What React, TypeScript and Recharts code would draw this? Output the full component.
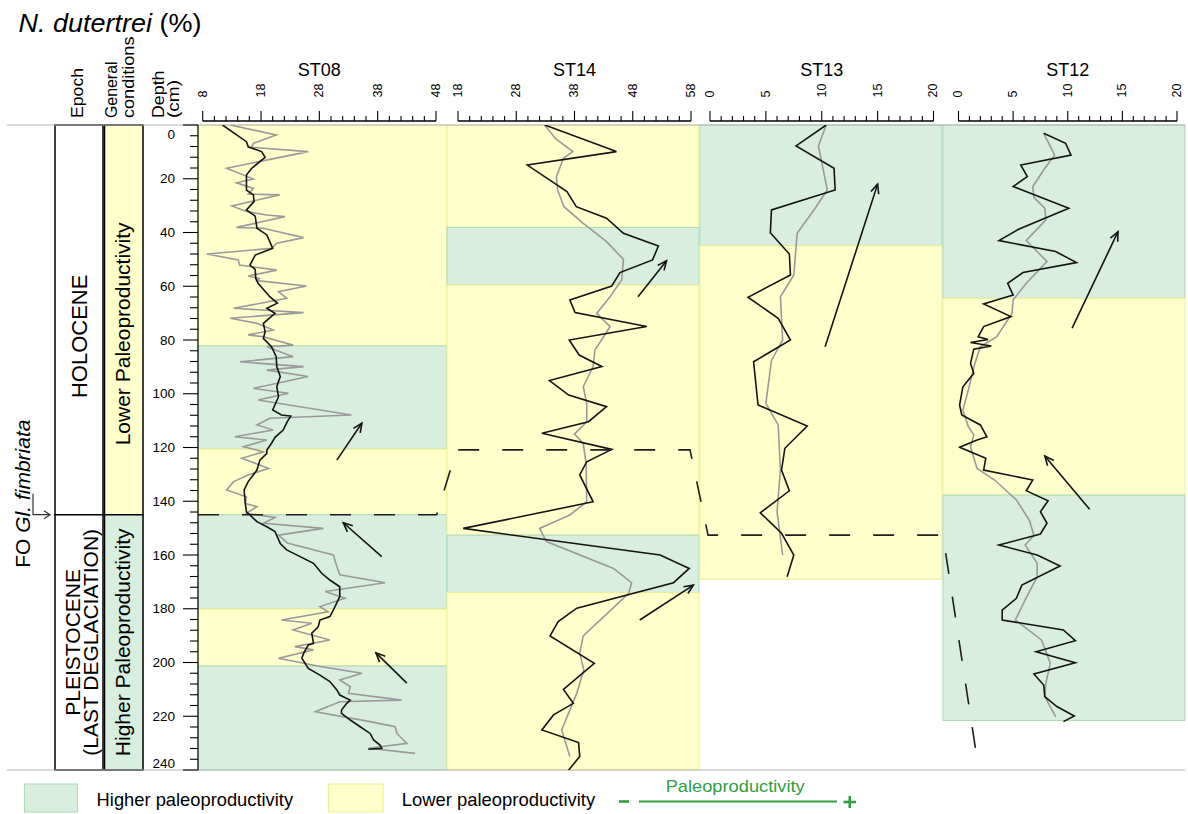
import React from 'react';
import { ScatterChart, Scatter, XAxis, YAxis, ReferenceArea, ReferenceLine } from 'recharts';

const FONT = "'Liberation Sans', Arial, Helvetica, sans-serif";
const INK = '#141414';
const GREY = '#9a9a9a';
const FRAME = '#b4b4b4';
const HIGH_FILL = '#d8eedf';
const HIGH_EDGE = '#a8dcb3';
const LOW_FILL = '#ffffcc';
const LOW_EDGE = '#eeee90';
const PROD_GREEN = '#2f9e41';

type Pair = [number, number]; // [depth (cm), N. dutertrei (%)]
type Level = 'high' | 'low';
type Band = { top: number; bottom: number; level: Level };

// ---- depth axis ----
const depthTicks = [
  0, 4, 8, 12, 16, 20, 24, 28, 32, 36, 40, 44, 48, 52, 56, 60, 64, 68, 72, 76, 80, 84, 88, 92, 96, 100,
  104, 108, 112, 116, 120, 124, 128, 132, 136, 140, 144, 148, 152, 156, 160, 164, 168, 172, 176, 180,
  184, 188, 192, 196, 200, 204, 208, 212, 216, 220, 224, 228, 232, 236, 240,
];
const depthLabels = [0, 20, 40, 60, 80, 100, 120, 140, 160, 180, 200, 220, 240];

// ---- percentage axes ----
const st08Ticks = [8, 10, 12, 14, 16, 18, 20, 22, 24, 26, 28, 30, 32, 34, 36, 38, 40, 42, 44, 46, 48];
const st08Labels = [8, 18, 28, 38, 48];
const st14Ticks = [18, 20, 22, 24, 26, 28, 30, 32, 34, 36, 38, 40, 42, 44, 46, 48, 50, 52, 54, 56, 58];
const st14Labels = [18, 28, 38, 48, 58];
const st13Ticks = [0, 1, 2, 3, 4, 5, 6, 7, 8, 9, 10, 11, 12, 13, 14, 15, 16, 17, 18, 19, 20];
const st13Labels = [0, 5, 10, 15, 20];
const st12Ticks = [0, 1, 2, 3, 4, 5, 6, 7, 8, 9, 10, 11, 12, 13, 14, 15, 16, 17, 18, 19, 20];
const st12Labels = [0, 5, 10, 15, 20];

// ---- ST08 ----
const st08Black: Pair[] = [
  [0, 11.4], [6.2, 15.5], [8.1, 15.8], [9.9, 18.1], [12.0, 18.7], [16.1, 16.4], [18.6, 15.5], [24.2, 15.5],
  [26.0, 16.7], [28.5, 16.8], [31.6, 15.5], [33.9, 17.0], [38.4, 17.3], [40.9, 19.0], [45.9, 20.0], [48.4, 17.0],
  [52.1, 16.1], [53.7, 17.0], [57.1, 17.1], [58.9, 17.5], [63.9, 19.5], [66.3, 20.8], [68.2, 19.0], [70.1, 20.4],
  [73.8, 18.4], [76.9, 18.7], [79.4, 18.4], [82.5, 19.8], [86.2, 20.6], [89.9, 20.7], [93.6, 21.3], [97.4, 20.7],
  [101.1, 21.0], [106.0, 20.0], [107.9, 21.5], [108.3, 23.1], [110.4, 22.5], [113.5, 21.8], [116.2, 20.4],
  [118.4, 19.8], [120.9, 19.0], [122.2, 19.0], [124.7, 17.8], [128.4, 17.3], [132.7, 15.8], [135.8, 15.1],
  [140.8, 15.3], [143.9, 15.5], [145.7, 16.4], [147.6, 17.3], [149.5, 19.0], [151.3, 20.4], [155.7, 21.3],
  [158.1, 22.4], [160.6, 24.7], [163.1, 27.0], [166.8, 28.4], [169.3, 29.8], [171.8, 31.5], [175.5, 31.5],
  [180.5, 30.4], [182.9, 29.8], [184.2, 28.1], [186.7, 27.8], [189.1, 26.7], [192.9, 27.0], [193.5, 26.1],
  [196.6, 25.3], [198.4, 25.0], [202.2, 26.1], [204.7, 28.1], [207.1, 29.8], [210.2, 31.0], [212.1, 31.5],
  [214.0, 33.3], [215.2, 32.7], [217.7, 31.8], [218.9, 31.8], [221.4, 33.3], [223.9, 35.0], [226.4, 36.7],
  [228.8, 37.3], [230.7, 38.4], [231.9, 38.7], [232.3, 36.4],
];
const st08Grey: Pair[] = [
  [0, 12.7], [3.7, 20.6], [6.8, 16.7], [8.3, 16.4], [9.9, 26.1], [16.1, 12.1], [20.1, 16.7], [21.5, 13.8],
  [23.6, 16.7], [25.7, 15.8], [26.0, 21.2], [30.1, 13.0], [32.2, 15.5], [33.5, 19.0], [34.1, 22.1], [38.1, 13.8],
  [38.4, 18.4], [41.9, 25.3], [44.0, 20.7], [45.9, 19.8], [48.0, 8.7], [50.2, 14.1], [52.1, 14.3], [54.0, 20.7],
  [56.2, 15.8], [57.1, 17.7], [57.9, 17.3], [59.9, 25.8], [62.0, 21.0], [64.5, 22.4], [68.2, 13.3], [69.8, 25.3],
  [71.9, 12.7], [73.8, 17.3], [76.3, 20.1], [78.1, 15.8], [78.8, 18.4], [81.9, 23.5], [82.5, 19.0], [86.2, 23.5],
  [88.1, 14.4], [89.9, 25.3], [91.2, 19.0], [93.6, 26.1], [98.0, 16.7], [99.8, 22.7], [102.3, 17.5], [107.9, 33.5],
  [109.1, 19.5], [111.6, 17.3], [113.5, 20.1], [116.0, 13.5], [117.2, 19.0], [119.7, 15.0], [121.6, 18.4],
  [124.0, 14.7], [127.8, 19.3], [130.2, 15.8], [132.7, 13.3], [135.8, 12.1], [138.3, 15.5], [140.8, 15.3],
  [142.0, 17.3], [144.5, 15.5], [146.0, 20.4], [148.2, 18.4], [150.1, 28.7], [152.6, 21.0], [155.5, 22.5],
  [160.0, 30.4], [164.3, 31.0], [167.4, 31.5], [170.3, 39.3], [173.6, 29.0], [176.1, 32.4], [179.2, 28.1],
  [181.1, 29.5], [184.2, 21.5], [185.4, 26.7], [187.9, 23.5], [191.6, 29.8], [194.1, 23.8], [195.3, 27.0],
  [198.4, 21.0], [201.6, 28.4], [204.0, 35.3], [206.5, 31.5], [209.0, 33.3], [211.5, 33.0], [214.0, 42.1],
  [214.6, 31.5], [218.3, 27.3], [222.0, 36.7], [223.9, 41.0], [226.4, 41.3], [230.1, 43.0], [231.9, 36.4],
  [233.8, 44.4],
];
const st08Bands: Band[] = [
  { top: 0, bottom: 82.2, level: 'low' },
  { top: 82.2, bottom: 120.6, level: 'high' },
  { top: 120.6, bottom: 145, level: 'low' },
  { top: 145, bottom: 180.1, level: 'high' },
  { top: 180.1, bottom: 201.3, level: 'low' },
  { top: 201.3, bottom: 240, level: 'high' },
];

// ---- ST14 ----
const st14Black: Pair[] = [
  [0, 32.9], [9.9, 45.2], [14.9, 29.9], [24.8, 36.7], [30.4, 38.3], [34.7, 43.5], [40.3, 46.4], [45.0, 52.4],
  [50.2, 51.4], [54.9, 45.8], [59.9, 44.4], [65.1, 37.2], [69.8, 38.1], [75.0, 50.4], [80.0, 37.1], [85.6, 38.8],
  [89.9, 42.7], [95.1, 33.7], [100.5, 37.0], [104.8, 43.5], [110.4, 40.4], [114.7, 32.4], [120.7, 44.4],
  [125.3, 40.1], [130.2, 38.9], [140.2, 41.2], [150.1, 18.9], [160.0, 52.7], [165.0, 57.7], [170.3, 55.0],
  [179.8, 38.4], [184.8, 35.2], [190.1, 33.8], [200.3, 41.4], [210.0, 36.1], [215.2, 37.8], [219.5, 34.4],
  [225.1, 32.4], [229.8, 38.7], [235.0, 38.9], [240.0, 37.0],
];
const st14Grey: Pair[] = [
  [0, 32.9], [5.0, 34.7], [9.9, 37.7], [12.4, 36.1], [19.2, 34.9], [24.2, 35.1], [30.4, 36.2], [36.6, 39.5],
  [43.4, 43.5], [50.0, 46.4], [57.7, 46.1], [63.9, 44.1], [70.1, 41.8], [75.0, 44.1], [78.8, 43.0], [83.7, 41.5],
  [89.9, 41.2], [97.4, 39.5], [103.6, 40.1], [110.4, 40.1], [115.0, 38.0], [118.5, 39.5], [125.9, 40.0],
  [140.2, 40.1], [145.1, 37.2], [150.1, 32.0], [155.0, 33.2], [165.0, 44.7], [170.3, 47.8], [174.3, 47.3],
  [190.1, 39.5], [196.5, 38.9], [202.7, 39.6], [211.4, 38.4], [225.1, 35.8], [235.0, 37.2],
];
const st14Bands: Band[] = [
  { top: 0, bottom: 38.1, level: 'low' },
  { top: 38.1, bottom: 59.5, level: 'high' },
  { top: 59.5, bottom: 152.6, level: 'low' },
  { top: 152.6, bottom: 174, level: 'high' },
  { top: 174, bottom: 240, level: 'low' },
];

// ---- ST13 ----
const st13Black: Pair[] = [
  [0, 10.4], [7.8, 7.7], [16.1, 11.1], [24.2, 11.2], [31.6, 5.5], [40.1, 5.4], [48.0, 7.1], [55.8, 7.2],
  [64.1, 3.4], [71.9, 6.1], [80.0, 7.2], [88.1, 3.9], [104.2, 4.3], [112.0, 8.7], [120.3, 6.7], [128.4, 6.4],
  [136.1, 7.1], [144.3, 4.5], [151.9, 6.4], [160.0, 7.5], [168.1, 6.9],
];
const st13Grey: Pair[] = [
  [0, 10.4], [7.8, 9.7], [24.2, 10.5], [31.6, 9.3], [40.3, 7.8], [55.8, 7.5], [63.9, 6.3], [80.0, 6.5],
  [87.6, 5.5], [103.6, 5.0], [111.6, 6.1], [128.4, 6.3], [143.9, 6.0], [160.0, 6.5],
];
const st13Bands: Band[] = [
  { top: 0, bottom: 44.9, level: 'high' },
  { top: 44.9, bottom: 169, level: 'low' },
];

// ---- ST12 ----
const st12Black: Pair[] = [
  [3.1, 7.8], [6.8, 9.8], [11.2, 10.3], [14.9, 5.7], [19.2, 6.3], [22.9, 5.0], [31.0, 10.1], [38.8, 5.5],
  [43.0, 3.7], [47.1, 8.9], [51.2, 10.8], [54.9, 5.9], [58.9, 4.5], [63.3, 5.0], [66.6, 2.3], [71.3, 4.8],
  [75.0, 2.3], [78.8, 1.8], [79.8, 2.7], [80.9, 1.1], [82.2, 3.0], [83.4, 1.4], [88.7, 1.1], [92.4, 1.4],
  [97.4, 0.4], [104.2, 0.1], [107.9, 0.3], [111.6, 2.0], [116.0, 2.6], [117.2, 1.7], [119.9, 0.1], [124.0, 2.5],
  [128.4, 2.3], [132.1, 6.8], [136.1, 6.2], [139.8, 8.2], [143.9, 7.5], [148.2, 8.1], [152.2, 7.5], [156.3, 3.7],
  [160.0, 7.2], [164.1, 9.3], [171.2, 5.8], [176.1, 5.3], [180.5, 4.0], [184.2, 4.0], [187.9, 9.6], [191.9, 10.7],
  [196.0, 7.1], [200.1, 10.7], [204.3, 6.9], [208.4, 7.8], [212.7, 7.9], [216.4, 9.0], [219.9, 10.6], [222.0, 9.6],
];
const st12Grey: Pair[] = [
  [3.1, 7.8], [11.2, 8.8], [16.1, 7.9], [22.9, 6.8], [26.9, 6.9], [31.0, 7.9], [35.3, 8.0], [43.0, 6.2],
  [50.8, 8.1], [58.9, 6.2], [65.1, 5.0], [70.1, 4.9], [78.8, 3.5], [82.5, 2.0], [88.7, 1.5], [98.6, 0.9],
  [106.0, 0.4], [112.2, 0.9], [115.3, 1.4], [119.7, 1.1], [127.8, 1.7], [132.1, 3.3], [139.5, 5.3], [147.2, 6.5],
  [152.8, 6.9], [156.3, 6.1], [163.1, 7.2], [168.1, 7.2], [176.7, 6.1], [184.2, 5.2], [191.6, 7.6], [200.3, 8.4],
  [207.7, 8.0], [212.7, 7.9], [220.2, 8.9],
];
const st12Bands: Band[] = [
  { top: 0, bottom: 64.5, level: 'high' },
  { top: 64.5, bottom: 137.7, level: 'low' },
  { top: 137.7, bottom: 221.6, level: 'high' },
];

// productivity trend arrows: tail -> head, [depth, %]
const trendArrows: { core: string; from: Pair; to: Pair }[] = [
  { core: 'st08', from: [124.7, 31.0], to: [110.9, 35.3] },
  { core: 'st08', from: [160.6, 38.7], to: [148.0, 32.1] },
  { core: 'st08', from: [207.7, 43.0], to: [196.4, 37.7] },
  { core: 'st14', from: [63.9, 48.9], to: [50.5, 53.8] },
  { core: 'st14', from: [184.2, 49.2], to: [171.2, 58.4] },
  { core: 'st13', from: [82.5, 10.3], to: [22.0, 15.0] },
  { core: 'st12', from: [75.6, 10.4], to: [39.7, 14.6] },
  { core: 'st12', from: [143.0, 12.0], to: [123.2, 7.9] },
];

// FO Gl. fimbriata correlation trace: [panel position, depth]
const fimbriataTrace: Pair[] = [
  [0, 145], [0.967, 145], [1.048, 120.9], [1.994, 120.9], [2.067, 152.6], [3.019, 152.6], [3.153, 233.3],
];

// left-hand stratigraphic columns
const epochUnits = [
  { top: 0, bottom: 145, lines: ['HOLOCENE'], size: 22, baselines: [8], shift: 16.5 },
  { top: 145, bottom: 240, lines: ['PLEISTOCENE', '(LAST DEGLACIATION)'], size: 21, baselines: [0.5, 18.5], shift: 0 },
];
const conditionUnits = [
  { top: 0, bottom: 145, label: 'Lower Paleoproductivity', level: 'low' as Level, shift: 14 },
  { top: 145, bottom: 240, label: 'Higher Paleoproductivity', level: 'high' as Level, shift: 0 },
];
const fimbriataDepth = 145;

const cores = [
  { id: 'st08', name: 'ST08', domain: [8, 48], ticks: st08Ticks, labels: st08Labels, black: st08Black, grey: st08Grey, bands: st08Bands },
  { id: 'st14', name: 'ST14', domain: [18, 58], ticks: st14Ticks, labels: st14Labels, black: st14Black, grey: st14Grey, bands: st14Bands },
  { id: 'st13', name: 'ST13', domain: [0, 20], ticks: st13Ticks, labels: st13Labels, black: st13Black, grey: st13Grey, bands: st13Bands },
  { id: 'st12', name: 'ST12', domain: [0, 20], ticks: st12Ticks, labels: st12Labels, black: st12Black, grey: st12Grey, bands: st12Bands },
];

// layout of the four panels inside the plotting area
const axisPadding: Record<string, { left: number; right: number }> = {
  st08: { left: 4.7, right: 749 },
  st14: { left: 260, right: 494 },
  st13: { left: 512, right: 251.5 },
  st12: { left: 760.5, right: 8 },
};
const panelSpan: Record<string, [number, number]> = {
  st08: [0, 1.009],
  st14: [1.009, 2.03],
  st13: [2.034, 3.015],
  st12: [3.019, 4],
};

const toPoints = (pairs: Pair[]) => pairs.map(([d, v]) => ({ d, v }));
const noDot = () => <g />;

const renderTopTick = (labels: number[]) => (props: any) => {
  const { x, y, payload } = props;
  const v = payload.value;
  const major = labels.includes(v);
  const base = y - 4;
  const ly = base - 23.5;
  return (
    <g>
      <line x1={x} x2={x} y1={base} y2={base - (major ? 10 : 5)} stroke="#000" strokeWidth={1.1} />
      {major && (
        <text x={x} y={ly} transform={`rotate(-90 ${x} ${ly})`} textAnchor="start" dominantBaseline="central"
          fontSize={12.5} fontFamily={FONT} fill="#000">{v}</text>
      )}
    </g>
  );
};

const DepthTick = (props: any) => {
  const { x, y, payload } = props;
  const v = payload.value;
  const major = depthLabels.includes(v);
  const len = major ? 15 : 8;
  const shift = v === 0 ? 9 : v === 240 ? -7 : 0;
  return (
    <g>
      <line x1={x - len} x2={x} y1={y} y2={y} stroke="#000" strokeWidth={1.1} />
      {major && (
        <text x={x - 23} y={y + shift} textAnchor="end" dominantBaseline="central" fontSize={13.5}
          fontFamily={FONT} fill="#000">{v}</text>
      )}
    </g>
  );
};

const axisBar = (title: string) => (p: any) => {
  const { x1, x2, y1 } = p;
  const yy = y1 - 4;
  return (
    <g>
      <line x1={x1} x2={x2} y1={yy} y2={yy} stroke="#000" strokeWidth={1.5} />
      <text x={(x1 + x2) / 2} y={y1 - 49} textAnchor="middle" fontSize={18} fontFamily={FONT} fill="#000">{title}</text>
    </g>
  );
};

const arrowShape = (p: any) => {
  const { x1, y1, x2, y2 } = p;
  const ang = Math.atan2(y2 - y1, x2 - x1);
  const h = 10;
  const s = 0.42;
  const ax = x2 - h * Math.cos(ang - s);
  const ay = y2 - h * Math.sin(ang - s);
  const bx = x2 - h * Math.cos(ang + s);
  const by = y2 - h * Math.sin(ang + s);
  return (
    <g>
      <line x1={x1} y1={y1} x2={x2} y2={y2} stroke={INK} strokeWidth={1.6} />
      <polyline points={`${ax},${ay} ${x2},${y2} ${bx},${by}`} fill="none" stroke={INK} strokeWidth={1.6} />
    </g>
  );
};

const verticalText = (lines: string[], size: number, baselines: number[], shift = 0) => (props: any) => {
  const vb = props.viewBox || {};
  const cx = vb.x + vb.width / 2;
  const cy = vb.y + vb.height / 2 + shift;
  return (
    <text transform={`rotate(-90 ${cx} ${cy})`} fontSize={size} fontFamily={FONT} fill="#000" textAnchor="middle">
      {lines.map((t, i) => (
        <tspan key={i} x={cx} y={cy + baselines[i]}>{t}</tspan>
      ))}
    </text>
  );
};

const foMarker = (p: any) => {
  const { x1, y1, x2 } = p;
  const top = y1 - 21;
  const tx = x1 - 3.5;
  const ty = y1 - 21;
  return (
    <g>
      <polyline points={`${x1},${top} ${x1},${y1} ${x2},${y1}`} fill="none" stroke="#333" strokeWidth={1.2} />
      <polyline points={`${x2 - 6},${y1 - 4} ${x2},${y1} ${x2 - 6},${y1 + 4}`} fill="none" stroke="#333" strokeWidth={1.2} />
      <text x={tx} y={ty} transform={`rotate(-90 ${tx} ${ty})`} textAnchor="middle" fontSize={21} fontFamily={FONT} fill="#000">
        FO <tspan fontStyle="italic">Gl. fimbriata</tspan>
      </text>
    </g>
  );
};

function ColumnsChart() {
  return (
    <ScatterChart width={198} height={814} margin={{ top: 125, right: 0, bottom: 44, left: 7 }}>
      <XAxis xAxisId="col" type="number" dataKey="c" domain={[0, 191]} hide allowDataOverflow />
      <YAxis yAxisId="depth" type="number" dataKey="d" domain={[0, 240]} reversed hide allowDataOverflow />
      <ReferenceLine xAxisId="col" yAxisId="depth" y={0} stroke={FRAME} strokeWidth={1.2} ifOverflow="visible" />
      <ReferenceLine xAxisId="col" yAxisId="depth" y={240} stroke={FRAME} strokeWidth={1.2} ifOverflow="visible" />
      {epochUnits.map((u, i) => (
        <ReferenceArea key={`ep${i}`} xAxisId="col" yAxisId="depth" x1={48} x2={96} y1={u.top} y2={u.bottom}
          fill="#ffffff" fillOpacity={1} stroke="#000" strokeWidth={1.5} ifOverflow="visible"
          label={verticalText(u.lines, u.size, u.baselines, u.shift)} />
      ))}
      {conditionUnits.map((u, i) => (
        <ReferenceArea key={`gc${i}`} xAxisId="col" yAxisId="depth" x1={97.5} x2={136} y1={u.top} y2={u.bottom}
          fill={u.level === 'high' ? HIGH_FILL : LOW_FILL} fillOpacity={1} stroke="#000" strokeWidth={1.5}
          ifOverflow="visible" label={verticalText([u.label], 21, [6.5], u.shift)} />
      ))}
      <ReferenceLine xAxisId="col" yAxisId="depth" segment={[{ x: 26, y: fimbriataDepth }, { x: 43, y: fimbriataDepth }]}
        ifOverflow="visible" shape={foMarker} />
    </ScatterChart>
  );
}

function CoresChart() {
  return (
    <ScatterChart width={1188} height={814} margin={{ top: 125, right: 3, bottom: 44, left: 148 }}>
      <XAxis xAxisId="panel" type="number" dataKey="p" domain={[0, 4]} hide allowDataOverflow />
      {cores.map((c) => (
        <XAxis key={c.id} xAxisId={c.id} type="number" dataKey="v" domain={c.domain} ticks={c.ticks} interval={0}
          orientation="top" height={0.001} padding={axisPadding[c.id]} axisLine={false} tickLine={false}
          tickSize={0} tickMargin={0} tick={renderTopTick(c.labels)} allowDataOverflow />
      ))}
      <YAxis yAxisId="depth" type="number" dataKey="d" domain={[0, 240]} reversed ticks={depthTicks} interval={0}
        width={50} axisLine={{ stroke: '#000', strokeWidth: 1.2 }} tickLine={false} tickSize={0} tickMargin={0}
        tick={DepthTick} allowDataOverflow />

      {cores.map((c) =>
        c.bands.map((b, i) => (
          <ReferenceArea key={`${c.id}-band${i}`} xAxisId="panel" yAxisId="depth" x1={panelSpan[c.id][0]}
            x2={panelSpan[c.id][1]} y1={b.top} y2={b.bottom} fill={b.level === 'high' ? HIGH_FILL : LOW_FILL}
            fillOpacity={1} stroke={b.level === 'high' ? HIGH_EDGE : LOW_EDGE} strokeWidth={1} ifOverflow="visible" />
        ))
      )}

      <ReferenceLine xAxisId="panel" yAxisId="depth" y={0} stroke={FRAME} strokeWidth={1.2} ifOverflow="visible" />
      <ReferenceLine xAxisId="panel" yAxisId="depth" y={240} stroke={FRAME} strokeWidth={1.2} ifOverflow="visible" />

      {cores.map((c) => (
        <ReferenceLine key={`${c.id}-axis`} xAxisId={c.id} yAxisId="depth"
          segment={[{ x: c.domain[0], y: 0 }, { x: c.domain[1], y: 0 }]} ifOverflow="visible" shape={axisBar(c.name)} />
      ))}

      {cores.map((c) => (
        <Scatter key={`${c.id}-grey`} name={`${c.name} grey`} xAxisId={c.id} yAxisId="depth" data={toPoints(c.grey)}
          line={{ stroke: GREY, strokeWidth: 1.6 }} shape={noDot} isAnimationActive={false} />
      ))}
      {cores.map((c) => (
        <Scatter key={`${c.id}-black`} name={c.name} xAxisId={c.id} yAxisId="depth" data={toPoints(c.black)}
          line={{ stroke: INK, strokeWidth: 1.6 }} shape={noDot} isAnimationActive={false} />
      ))}

      <Scatter name="FO Gl. fimbriata" xAxisId="panel" yAxisId="depth"
        data={fimbriataTrace.map(([p, d]) => ({ p, d }))}
        line={{ stroke: '#1e1e1e', strokeWidth: 1.6, strokeDasharray: '21 23' }} shape={noDot} isAnimationActive={false} />

      {trendArrows.map((a, i) => (
        <ReferenceLine key={`arrow${i}`} xAxisId={a.core} yAxisId="depth"
          segment={[{ x: a.from[1], y: a.from[0] }, { x: a.to[1], y: a.to[0] }]} ifOverflow="visible" shape={arrowShape} />
      ))}
    </ScatterChart>
  );
}

function Decorations() {
  const hdr = { fontSize: 17, fontFamily: FONT, fill: '#000', lengthAdjust: 'spacingAndGlyphs' } as const;
  const rot = (x: number, y: number) => `rotate(-90 ${x} ${y})`;
  return (
    <svg width={1188} height={814} style={{ position: 'absolute', left: 0, top: 0, pointerEvents: 'none' }}>
      <text x={18.5} y={31.5} fontSize={26.5} fontFamily={FONT} fill="#000" textLength={183} lengthAdjust="spacingAndGlyphs">
        <tspan fontStyle="italic">N. dutertrei</tspan> (%)
      </text>
      <text x={83} y={118} transform={rot(83, 118)} textLength={50} {...hdr}>Epoch</text>
      <text x={116.5} y={118} transform={rot(116.5, 118)} textLength={56.5} {...hdr}>General</text>
      <text x={134} y={118} transform={rot(134, 118)} textLength={81.5} {...hdr}>conditions</text>
      <text x={163.5} y={118} transform={rot(163.5, 118)} textLength={47.5} {...hdr}>Depth</text>
      <text x={178.5} y={118} transform={rot(178.5, 118)} textLength={38} {...hdr}>(cm)</text>

      <rect x={24.5} y={784} width={53} height={28} fill={HIGH_FILL} stroke={HIGH_EDGE} strokeWidth={1} />
      <text x={96.6} y={806} fontSize={18.5} fontFamily={FONT} fill="#000" textLength={196.5} lengthAdjust="spacingAndGlyphs">
        Higher paleoproductivity
      </text>
      <rect x={328.6} y={784} width={54.5} height={28} fill={LOW_FILL} stroke={LOW_EDGE} strokeWidth={1} />
      <text x={401.7} y={806} fontSize={18.5} fontFamily={FONT} fill="#000" textLength={193.5} lengthAdjust="spacingAndGlyphs">
        Lower paleoproductivity
      </text>
      <line x1={619} x2={629} y1={801.5} y2={801.5} stroke={PROD_GREEN} strokeWidth={2.6} />
      <line x1={639} x2={837} y1={801.5} y2={801.5} stroke={PROD_GREEN} strokeWidth={2} />
      <line x1={843.5} x2={856} y1={802} y2={802} stroke={PROD_GREEN} strokeWidth={2.6} />
      <line x1={849.75} x2={849.75} y1={796} y2={808} stroke={PROD_GREEN} strokeWidth={2.6} />
      <text x={665.7} y={792} fontSize={17} fontFamily={FONT} fill={PROD_GREEN} textLength={139} lengthAdjust="spacingAndGlyphs">
        Paleoproductivity
      </text>
    </svg>
  );
}

export default function App() {
  return (
    <div style={{ position: 'absolute', left: 0, top: 0, width: 1188, height: 814, background: '#ffffff', overflow: 'hidden', fontFamily: FONT }}>
      <div style={{ position: 'absolute', left: 0, top: 0 }}>
        <ColumnsChart />
      </div>
      <div style={{ position: 'absolute', left: 0, top: 0 }}>
        <CoresChart />
      </div>
      <Decorations />
    </div>
  );
}
